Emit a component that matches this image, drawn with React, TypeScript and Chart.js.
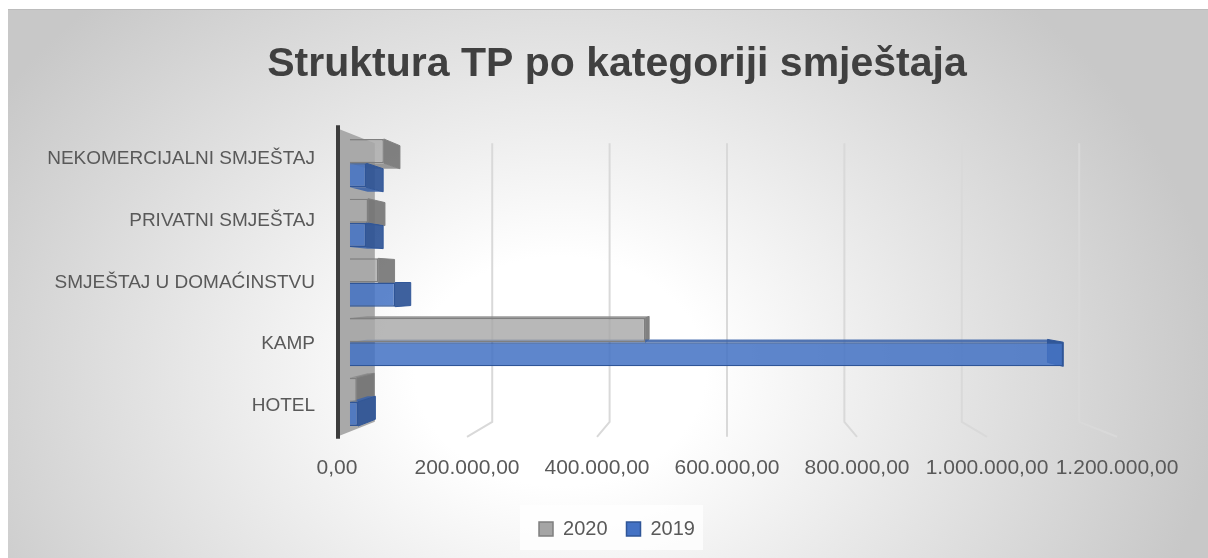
import React, { useEffect, useRef } from 'react';
import { Chart, registerables } from 'chart.js';

Chart.register(...registerables);

// ---- data ----
const categories = [
  'NEKOMERCIJALNI SMJEŠTAJ',
  'PRIVATNI SMJEŠTAJ',
  'SMJEŠTAJ U DOMAĆINSTVU',
  'KAMP',
  'HOTEL',
];
const seriesNames = ['2020', '2019'];
const values2020 = [54000, 29000, 45000, 470000, 11000];
const values2019 = [26000, 26000, 72000, 1135000, 13000];
const xTickMin = 0;
const xTickMax = 1200000;
const xTickStep = 200000;
const titleText = 'Struktura TP po kategoriji smještaja';

// ---- styles ----
const FONT = "'Liberation Sans', Arial, sans-serif";
const TEXT_COLOR = '#595959';
const seriesStyles = [
  {
    fill: 'rgba(168,168,168,0.82)',
    legendFill: '#a5a5a5',
    border: '#7f7f7f',
    endFace: 'rgba(115,115,115,0.9)',
    sideFace: 'rgba(135,135,135,0.85)',
  },
  {
    fill: 'rgba(68,114,196,0.86)',
    legendFill: '#4472c4',
    border: '#2f5597',
    endFace: 'rgba(46,84,150,0.92)',
    sideFace: 'rgba(58,98,168,0.88)',
  },
];

const BAR_DEPTH = 0.033; // bars' front plane, relative to the floor's front edge
const FACE_DEPTH = 0.047; // bar thickness in depth
const WALL_DEPTH = 0.097; // back wall

function formatNumber(v: number): string {
  const s = Math.abs(Math.round(v)).toString();
  const dotted = s.replace(/\B(?=(\d{3})+(?!\d))/g, '.');
  return (v < 0 ? '-' : '') + dotted + ',00';
}

const perspectivePlugin = {
  id: 'perspective3d',
  beforeDraw(chart: any) {
    const legend = chart.legend;
    if (!legend || !legend.legendHitBoxes || !legend.legendHitBoxes.length) return;
    const hb = legend.legendHitBoxes;
    const left = Math.min(...hb.map((h: any) => h.left)) - 19;
    const right = Math.max(...hb.map((h: any) => h.left + h.width)) + 8;
    const top = Math.min(...hb.map((h: any) => h.top)) - 14;
    const bottom = Math.max(...hb.map((h: any) => h.top + h.height)) + 11;
    const ctx = chart.ctx;
    ctx.save();
    ctx.fillStyle = 'rgba(255,255,255,0.75)';
    ctx.fillRect(left, top, right - left, bottom - top);
    ctx.restore();
  },
  beforeDatasetsDraw(chart: any) {
    const { ctx, chartArea: a, scales } = chart;
    const vx = (a.left + a.right) / 2;
    const vy = (a.top + a.bottom) / 2;
    const back = (x: number, y: number, f: number) => [x + f * (vx - x), y + f * (vy - y)];

    ctx.save();
    // side wall
    const [wx, wt] = back(a.left, a.top, WALL_DEPTH);
    const [, wb] = back(a.left, a.bottom, WALL_DEPTH);
    ctx.fillStyle = '#a9a9a9';
    ctx.beginPath();
    ctx.moveTo(a.left, a.top);
    ctx.lineTo(wx, wt);
    ctx.lineTo(wx, wb);
    ctx.lineTo(a.left, a.bottom);
    ctx.closePath();
    ctx.fill();

    // grid lines: back wall + floor
    const xs = scales.x;
    ctx.strokeStyle = '#d9d9d9';
    ctx.lineWidth = 2;
    xs.ticks.forEach((t: any) => {
      if (t.value === 0) return;
      const p = xs.getPixelForValue(t.value);
      const [pb, ty] = back(p, a.top, WALL_DEPTH);
      const [, by] = back(p, a.bottom, WALL_DEPTH);
      ctx.beginPath();
      ctx.moveTo(pb, ty);
      ctx.lineTo(pb, by);
      ctx.lineTo(p, a.bottom);
      ctx.stroke();
    });

    // axis edge
    ctx.strokeStyle = '#3c3c3c';
    ctx.lineWidth = 4;
    ctx.beginPath();
    ctx.moveTo(a.left + 1, a.top - 3);
    ctx.lineTo(a.left + 1, a.bottom + 2);
    ctx.stroke();
    ctx.restore();

    // move into the bars' plane (kept until afterDatasetsDraw)
    ctx.save();
    ctx.translate(vx, vy);
    ctx.scale(1 - BAR_DEPTH, 1 - BAR_DEPTH);
    ctx.translate(-vx, -vy);

    // hidden faces of the 3D bars
    chart.data.datasets.forEach((_ds: any, di: number) => {
      const meta = chart.getDatasetMeta(di);
      const st = seriesStyles[di];
      meta.data.forEach((el: any) => {
        const { x, y, base, height } = el.getProps(['x', 'y', 'base', 'height'], true);
        const x0 = Math.min(x, base);
        const x1 = Math.max(x, base);
        const y0 = y - height / 2;
        const y1 = y + height / 2;
        const f = FACE_DEPTH;
        const [x1b, y0b] = back(x1, y0, f);
        const [, y1b] = back(x1, y1, f);
        const [x0b] = back(x0, y0, f);
        // horizontal face
        ctx.fillStyle = st.sideFace;
        ctx.strokeStyle = st.border;
        ctx.lineWidth = 1;
        ctx.beginPath();
        if (y < vy) {
          ctx.moveTo(x0, y1);
          ctx.lineTo(x1, y1);
          ctx.lineTo(x1b, y1b);
          ctx.lineTo(x0b, y1b);
        } else {
          ctx.moveTo(x0, y0);
          ctx.lineTo(x1, y0);
          ctx.lineTo(x1b, y0b);
          ctx.lineTo(x0b, y0b);
        }
        ctx.closePath();
        ctx.fill();
        // end face
        ctx.fillStyle = st.endFace;
        ctx.beginPath();
        ctx.moveTo(x1, y0);
        ctx.lineTo(x1b, y0b);
        ctx.lineTo(x1b, y1b);
        ctx.lineTo(x1, y1);
        ctx.closePath();
        ctx.fill();
        ctx.stroke();
      });
    });
  },
  afterDatasetsDraw(chart: any) {
    chart.ctx.restore();
  },
};

export default function App() {
  const canvasRef = useRef<HTMLCanvasElement>(null);

  useEffect(() => {
    const canvas = canvasRef.current;
    if (!canvas) return;
    const seriesData = [values2020, values2019];
    const chart = new Chart(canvas, {
      type: 'bar',
      data: {
        labels: categories,
        datasets: seriesNames.map((name, i) => ({
          label: name,
          data: seriesData[i],
          backgroundColor: seriesStyles[i].fill,
          borderColor: seriesStyles[i].border,
          borderWidth: 1.5,
          categoryPercentage: 0.81,
          barPercentage: 1.0,
        })),
      },
      options: {
        indexAxis: 'y',
        responsive: false,
        maintainAspectRatio: false,
        animation: false,
        devicePixelRatio: 1,
        layout: { padding: { left: 18, right: 0, top: 0, bottom: 9 } },
        font: { family: FONT },
        scales: {
          x: {
            min: xTickMin,
            max: xTickMax,
            grid: { display: false, drawTicks: false },
            border: { display: false },
            ticks: {
              stepSize: xTickStep,
              autoSkip: false,
              maxRotation: 0,
              minRotation: 0,
              padding: 19,
              color: TEXT_COLOR,
              font: { family: FONT, size: 21 },
              callback: (v: any) => formatNumber(Number(v)),
            },
          },
          y: {
            grid: { display: false, drawTicks: false },
            border: { display: false },
            ticks: {
              padding: 22,
              color: TEXT_COLOR,
              font: { family: FONT, size: 19 },
            },
            afterFit: (s: any) => {
              s.width = 311;
            },
          },
          yRight: {
            type: 'linear',
            position: 'right',
            display: true,
            grid: { display: false, drawTicks: false },
            border: { display: false },
            ticks: { display: false },
            afterFit: (s: any) => {
              s.width = 91;
            },
          },
        },
        plugins: {
          title: {
            display: true,
            text: titleText,
            color: '#404040',
            font: { family: FONT, size: 41, weight: 'bold', lineHeight: 1.2 },
            padding: { top: 31, bottom: 39 },
          },
          legend: {
            position: 'bottom',
            labels: {
              color: TEXT_COLOR,
              font: { family: FONT, size: 20 },
              boxWidth: 14,
              boxHeight: 14,
              padding: 19,
              generateLabels: (ch: any) =>
                ch.data.datasets.map((ds: any, i: number) => ({
                  text: ds.label,
                  fillStyle: seriesStyles[i].legendFill,
                  strokeStyle: seriesStyles[i].border,
                  lineWidth: 1.5,
                  fontColor: TEXT_COLOR,
                  hidden: !ch.isDatasetVisible(i),
                  datasetIndex: i,
                })),
            },
          },
          tooltip: { enabled: false },
        },
      },
      plugins: [perspectivePlugin],
    } as any);
    return () => chart.destroy();
  }, []);

  return (
    <div
      style={{
        position: 'absolute',
        left: 8,
        top: 9,
        width: 1200,
        height: 549,
        background:
          'radial-gradient(ellipse 660px 520px at 46% 66%, #ffffff 0%, #ffffff 22%, #c8c8c8 100%)',
        boxShadow: 'inset 0 1px 0 #bcbcbc',
      }}
    >
      <canvas ref={canvasRef} width={1200} height={549} style={{ display: 'block' }} />
    </div>
  );
}
